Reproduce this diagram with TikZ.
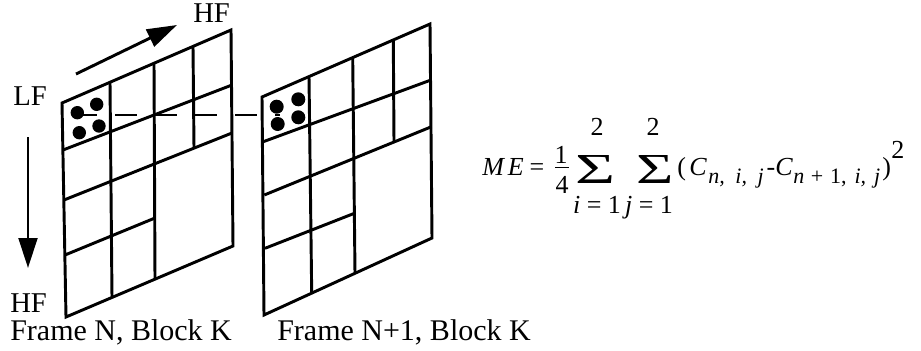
\documentclass[tikz,border=0pt]{standalone}
\usepackage{fontspec}
\setmainfont{Liberation Serif}
\usetikzlibrary{arrows.meta}
\tikzset{
  grid/.style={line width=2.2pt, line join=miter},
  bigarrow/.style={line width=2.2pt, -{Triangle[length=22.5pt,width=14pt]}},
  dashline/.style={line width=1.9pt, dash pattern=on 16.5pt off 13.5pt, dash phase=0pt},
  dot/.style={fill=black},
  lbl/.style={font=\fontsize{22.5}{27}\selectfont, inner sep=0pt, anchor=base west},
  hfl/.style={font=\fontsize{21.5}{25}\selectfont, inner sep=0pt, anchor=base west},
  fm/.style={font=\fontsize{19.5}{23}\selectfont, inner sep=0pt},
  fs/.style={font=\fontsize{16.5}{20}\selectfont\itshape, inner sep=0pt, anchor=base west},
}
\begin{document}
\begin{tikzpicture}[x=0.75pt,y=-0.75pt]
\useasboundingbox[fill=white] (0,0) rectangle (921,350);

% dashed line between the blocks
\coordinate (d1) at (75,115);
\coordinate (d2) at (280,115);
\draw[dashline] (d1) -- (d2);

% ---- Frame N ----
\draw[grid] (62,103) -- (231,30) -- (233,246) -- (66,317) -- cycle;
\draw[grid] (110,82.3) -- (112,297.4);
\draw[grid] (154,63.3) -- (155,279);
\draw[grid] (193,46.4) -- (194,148);
\draw[grid] (63,150) -- (232,85);
\draw[grid] (64,200) -- (232,133);
\draw[grid] (65,255) -- (155,218);
\fill[dot] (77.3,112.7) circle (6.7);
\fill[dot] (96.7,104.3) circle (6.7);
\fill[dot] (79.3,132.7) circle (6.7);
\fill[dot] (99,126) circle (6.7);

% ---- Frame N+1 ----
\draw[grid] (262,97) -- (430,24) -- (432,238) -- (264,315) -- cycle;
\draw[grid] (309,76.6) -- (311.7,293);
\draw[grid] (352.7,57.6) -- (355,273.3);
\draw[grid] (393.3,39.9) -- (394,142);
\draw[grid] (263.3,141.7) -- (431,80);
\draw[grid] (264.3,195) -- (431.5,126.7);
\draw[grid] (265,248.3) -- (354.4,213.3);
\fill[dot] (276.7,106.7) circle (7);
\fill[dot] (298.3,99.3) circle (7);
\fill[dot] (277.7,124) circle (7);
\fill[dot] (298.3,117.3) circle (7);

% ---- arrows ----
\coordinate (a1s) at (76,74);
\coordinate (a1e) at (177,25);
\draw[bigarrow] (a1s) -- (a1e);
\coordinate (a2s) at (28,137);
\coordinate (a2e) at (28,268);
\draw[bigarrow] (a2s) -- (a2e);

% ---- labels ----
\node[hfl] (hftop) at (193,22) {HF};
\node[hfl] (lf) at (13,105) {LF};
\node[hfl] (hfbot) at (10,312) {HF};
\node[lbl] (fn) at (10,340) {Frame N, Block K};
\node[lbl] (fn1) at (277,340) {Frame N+1, Block K};

% ---- formula ----
\node[fm, anchor=base west] (me) at (482,175) {\itshape M\kern3pt E};
\node[fm] (eq) at (537,170) {=};
\node[fm, anchor=base] (one) at (561,163) {1};
\draw[line width=1.3pt] (555,167.5) -- (569,167.5);
\node[fm, anchor=base] (four) at (562,193) {4};
\node[inner sep=0pt] (s1) at (595,169) {\resizebox*{30pt}{21pt}{\fontsize{30}{30}\selectfont\char"03A3}};
\node[fm, anchor=base] (s1t) at (597,135) {2};
\node[fm, anchor=base] (s1b) at (597,213) {\itshape i\upshape\ = 1};
\node[inner sep=0pt] (s2) at (655,169) {\resizebox*{28pt}{21pt}{\fontsize{30}{30}\selectfont\char"03A3}};
\node[fm, anchor=base] (s2t) at (653,135) {2};
\node[fm, anchor=base] (s2b) at (649,213) {\itshape j\upshape\ = 1};
\node[fm, anchor=base west] (lp) at (677,175) {(};
\node[fm, anchor=base west] (c1) at (689,175) {\itshape C};
\node[fs] (sub1) at (708,183) {n,\kern8pt i,\kern8pt j};
\node[fm, anchor=base] (minus) at (771,175) {-};
\node[fm, anchor=base west] (c2) at (775,175) {\itshape C};
\node[fs] (sub2) at (793,183) {n\kern5pt\upshape+\kern5pt 1,\kern6pt\itshape i,\kern6pt j};
\node[fm, anchor=base west] (rp) at (882,175) {)};
\node[fm, anchor=base west] (sq) at (891,158) {2};
\end{tikzpicture}
\end{document}
